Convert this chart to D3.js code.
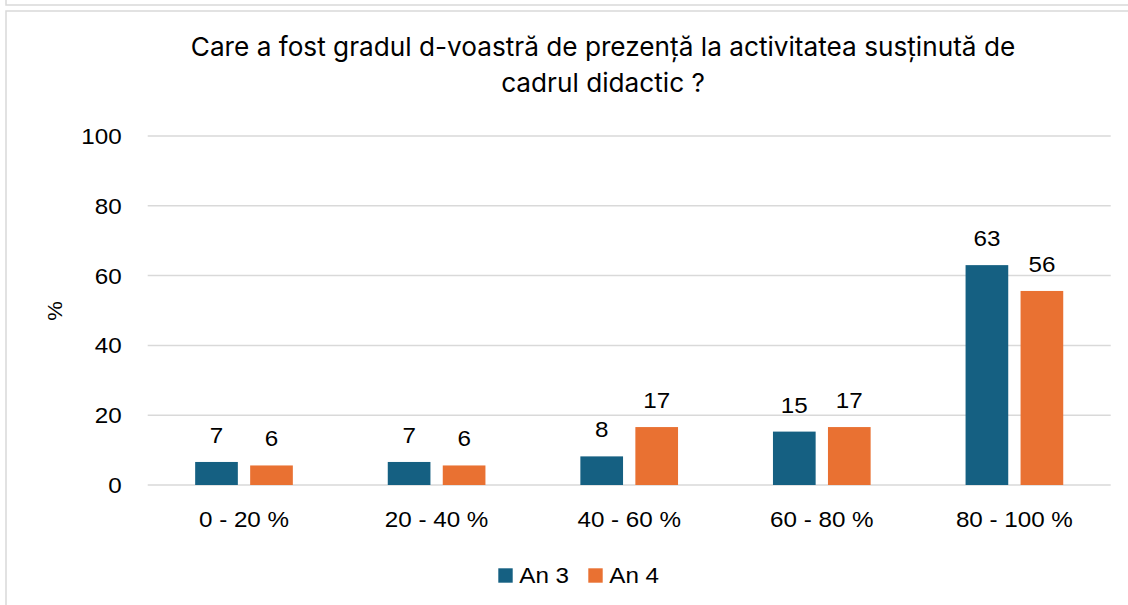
<!DOCTYPE html>
<html><head><meta charset="utf-8">
<script src="https://cdn.jsdelivr.net/npm/d3@7"></script>
<style>html,body{margin:0;padding:0;background:#fff;}svg{display:block;}</style>
</head><body>
<script>
const categories = ["0 - 20 %", "20 - 40 %", "40 - 60 %", "60 - 80 %", "80 - 100 %"];
const seriesNames = ["An 3", "An 4"];
const an3 = [6.6, 6.6, 8.2, 15.3, 63.0];
const an4 = [5.6, 5.6, 16.6, 16.6, 55.6];
const yTicks = [0, 20, 40, 60, 80, 100];
const colors = ["#156082", "#E97132"];
const titleLines = ["Care a fost gradul d-voastră de prezență la activitatea susținută de", "cadrul didactic ?"];

const W = 1128, H = 605;
const SX = 1.1;
const font = "'Liberation Sans', Arial, sans-serif";
const svg = d3.select("body").append("svg").attr("width", W).attr("height", H);

// frames
svg.append("rect").attr("x", 6).attr("y", -30).attr("width", 1200).attr("height", 35)
  .attr("fill", "none").attr("stroke", "#d9d9d9").attr("stroke-width", 1.5);
svg.append("rect").attr("x", 6).attr("y", 11).attr("width", 1200).attr("height", 700)
  .attr("fill", "#fff").attr("stroke", "#d9d9d9").attr("stroke-width", 1.5);

const x0 = d3.scaleBand().domain(categories).range([147.7, 1110.7]).padding(0);
const x1 = d3.scaleBand().domain(seriesNames).range([0, x0.bandwidth()]).paddingInner(0.224).paddingOuter(0.863);
const y = d3.scaleLinear().domain([0, 100]).range([485, 136]);

// grid
svg.append("g").selectAll("line").data(yTicks).join("line")
  .attr("x1", 147.7).attr("x2", 1110.7)
  .attr("y1", d => y(d)).attr("y2", d => y(d))
  .attr("stroke", "#d9d9d9").attr("stroke-width", 1.5);

// y axis labels
const yAxis = d3.axisLeft(y).tickValues(yTicks).tickSize(0).tickPadding(0);
const gy = svg.append("g").attr("transform", "translate(121.7,0)").call(yAxis);
gy.select(".domain").remove();
gy.selectAll("text").attr("font-family", font).attr("font-size", 22).attr("fill", "#000")
  .attr("dy", "0.36em").attr("transform", `scale(${SX},1)`).attr("x", 0);
gy.selectAll(".tick").each(function(d){
  d3.select(this).attr("transform", `translate(0,${y(d)})`);
});

// x axis labels
const xAxis = d3.axisBottom(x0).tickSize(0).tickPadding(0);
const gx = svg.append("g").attr("transform", "translate(0,485)").call(xAxis);
gx.select(".domain").remove();
gx.selectAll("text").attr("font-family", font).attr("font-size", 22).attr("fill", "#000")
  .attr("dy", 0).attr("y", 42).attr("transform", `scale(${SX},1)`).attr("x", 0);

// bars
const data = categories.map((c, i) => ({c, vals: [an3[i], an4[i]]}));
const groups = svg.append("g").selectAll("g").data(data).join("g")
  .attr("transform", d => `translate(${x0(d.c)},0)`);
groups.selectAll("rect").data(d => d.vals.map((v, j) => ({s: seriesNames[j], v, j}))).join("rect")
  .attr("x", d => x1(d.s)).attr("width", x1.bandwidth())
  .attr("y", d => y(d.v)).attr("height", d => y(0) - y(d.v))
  .attr("fill", d => colors[d.j]);
groups.selectAll("text").data(d => d.vals.map((v, j) => ({s: seriesNames[j], v, j}))).join("text")
  .attr("transform", d => `translate(${x1(d.s) + x1.bandwidth()/2},${y(d.v) - 19}) scale(${SX},1)`)
  .attr("text-anchor", "middle").attr("font-family", font).attr("font-size", 22).attr("fill", "#000")
  .text(d => d3.format(".0f")(d.v));

// y title
svg.append("text").attr("transform", `translate(62,311) rotate(-90) scale(${SX},1)`)
  .attr("text-anchor", "middle").attr("font-family", font).attr("font-size", 20).attr("fill", "#000").text("%");

// title
svg.append("g").selectAll("text").data(titleLines).join("text")
  .attr("x", 603).attr("y", (d, i) => 56 + i * 35.7)
  .attr("text-anchor", "middle").attr("font-family", "Inter, 'Open Sans', sans-serif")
  .attr("font-size", 26.2).attr("fill", "#000").text(d => d);

// legend
const legendX = [498.3, 588.3];
const lg = svg.append("g").selectAll("g").data(seriesNames).join("g")
  .attr("transform", (d, i) => `translate(${legendX[i]},568.3)`);
lg.append("rect").attr("width", 14.4).attr("height", 14.4).attr("fill", (d, i) => colors[i]);
lg.append("text").attr("transform", `translate(21,14.4) scale(${SX},1)`)
  .attr("font-family", font).attr("font-size", 22).attr("fill", "#000").text(d => d);
</script>
</body></html>
